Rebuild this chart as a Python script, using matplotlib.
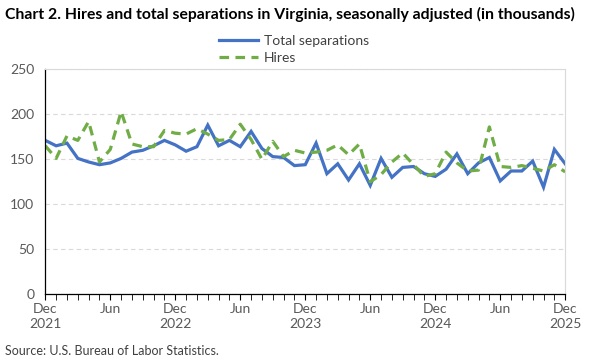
import matplotlib

matplotlib.use("Agg")

import matplotlib.pyplot as plt
import numpy as np

# Monthly values, Dec 2021 .. Dec 2025 (thousands)
total_separations = [
    171, 165, 168, 151, 147, 144, 146, 151, 158, 160, 165, 171,
    166, 159, 164, 188, 165, 171, 164, 181, 162, 153, 152, 143,
    144, 168, 134, 145, 127, 145, 121, 151, 130, 141, 142, 134,
    131, 139, 156, 134, 146, 152, 126, 137, 137, 148, 119, 161,
    145,
]
hires = [
    165, 151, 176, 171, 192, 147, 161, 203, 167, 164, 164, 182,
    179, 178, 184, 178, 171, 172, 189, 172, 150, 170, 153, 160,
    157, 158, 160, 166, 155, 167, 125, 133, 147, 157, 144, 131,
    134, 158, 146, 137, 138, 186, 142, 141, 143, 140, 137, 144,
    136,
]
tick_labels = ["Dec\n2021", "Jun", "Dec\n2022", "Jun", "Dec\n2023",
               "Jun", "Dec\n2024", "Jun", "Dec\n2025"]

plt.rcParams["font.family"] = ["Lato", "DejaVu Sans"]

months = np.arange(len(total_separations))

fig = plt.figure(figsize=(6, 3.6), dpi=100)
ax = fig.add_axes([0.0755, 0.1825, 0.8665, 0.625])

ax.plot(months, total_separations, color="#4472C4", linewidth=2.3,
        label="Total separations", solid_joinstyle="miter")
ax.plot(months, hires, color="#70AD47", linewidth=2.3, linestyle=(0, (3, 2)),
        label="Hires")

ax.set_xlim(0, len(months) - 1)
ax.set_ylim(0, 250)
ax.set_yticks(range(0, 251, 50))
ax.set_xticks(months[::6])
ax.set_xticklabels(tick_labels, linespacing=1.35)
ax.set_xticks(months, minor=True)

ax.grid(axis="y", color="#d9d9d9", linestyle=(0, (4, 3)), linewidth=0.8)
ax.set_axisbelow(True)

for side in ("top", "right"):
    ax.spines[side].set_color("#d9d9d9")
    ax.spines[side].set_linewidth(0.8)
for side in ("left", "bottom"):
    ax.spines[side].set_color("black")
    ax.spines[side].set_linewidth(0.9)

ax.tick_params(axis="y", length=0, labelsize=10, labelcolor="#595959", pad=8)
ax.tick_params(axis="x", which="both", direction="out", length=4,
               color="black", labelsize=10, labelcolor="#595959", pad=2)

fig.text(0.008, 0.96, "Chart 2. Hires and total separations in Virginia, "
         "seasonally adjusted (in thousands)", fontsize=11.3, fontweight="bold",
         ha="left", va="center")

fig.legend(loc="center", bbox_to_anchor=(0.49, 0.863), ncol=1, frameon=False,
           fontsize=10, handlelength=2.8, labelspacing=0.35, handletextpad=0.4,
           labelcolor="#404040")

fig.text(0.008, 0.024, "Source: U.S. Bureau of Labor Statistics.", fontsize=9,
         color="#404040", ha="left", va="center")

fig.savefig("out.png", dpi=100)
plt.close(fig)
